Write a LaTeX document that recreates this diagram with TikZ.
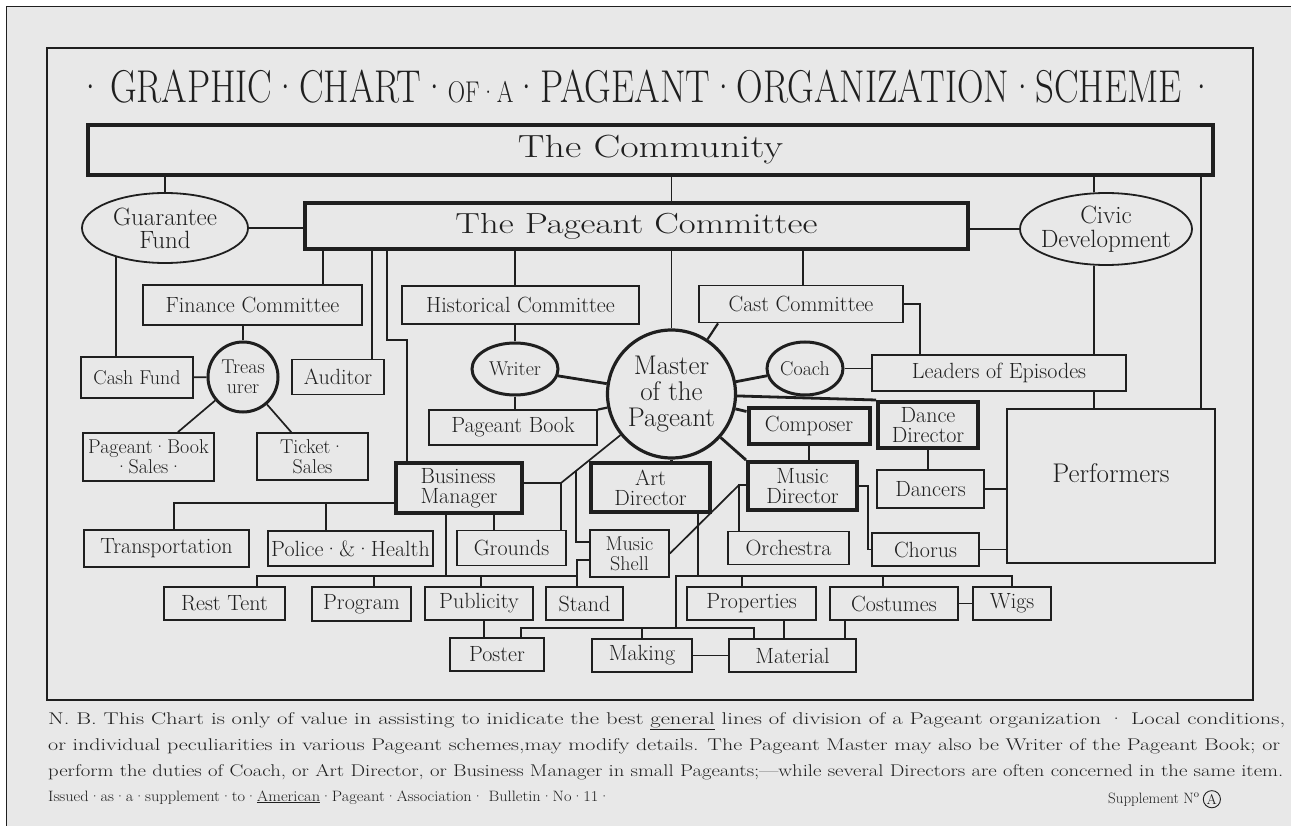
\documentclass[tikz,border=0pt]{standalone}
\usepackage{graphicx}
\usepackage{tikz}
\usetikzlibrary{shapes.geometric}
\definecolor{paper}{gray}{0.91}
\definecolor{ink}{gray}{0.12}
\tikzset{
  pgbox/.style={rectangle, draw=ink, line width=1.8pt, fill=paper, inner sep=0pt,
                text=ink, align=center, font=\fontsize{22}{20}\selectfont},
  pghead/.style={pgbox, line width=4pt},
  pgoval/.style={ellipse, draw=ink, line width=1.8pt, fill=paper, inner sep=0pt,
                 text=ink, align=center, font=\fontsize{22}{22}\selectfont},
  pgring/.style={circle, draw=ink, line width=3.2pt, fill=paper, inner sep=0pt,
                 text=ink, align=center},
  pglink/.style={draw=ink, line width=1.7pt},
  pgspoke/.style={pglink, line width=2.8pt},
  pgnote/.style={anchor=base west, inner sep=0pt, text=ink,
                 font=\fontsize{17}{17}\selectfont}
}
% stretch one line of lettering to a given width
\newcommand{\pgline}[2]{\resizebox{#1}{\height}{#2}}

\begin{document}
\begin{tikzpicture}[x=1pt, y=-1pt]
  \useasboundingbox (0,0) rectangle (1291,826);
  \fill[white] (0,0) rectangle (1291,826);
  \fill[paper] (6,7) rectangle (1291,826);
  \draw[ink, line width=1pt] (6,826) -- (6,7) -- (1291,7);
  \draw[ink, line width=2.4pt] (47,48) rectangle (1253,700);

  \node[anchor=base, inner sep=0pt, text=ink] (title) at (646,103)
    {\pgline{1137pt}{\fontsize{46}{46}\selectfont ·\,GRAPHIC·CHART·{\fontsize{30}{30}\selectfont OF·A}·PAGEANT·ORGANIZATION·SCHEME\,·}};

  % top of the scheme
  \node[pghead, minimum width=1125, minimum height=50,
        font=\fontsize{32}{32}\selectfont] (community) at (650.5,150) {\pgline{265pt}{The Community}};
  \node[pghead, minimum width=663, minimum height=46,
        font=\fontsize{29}{29}\selectfont] (pcomm) at (636.5,226) {\pgline{362pt}{The Pageant Committee}};
  \node[pgoval, minimum width=166, minimum height=70, inner xsep=-14pt,
        font=\fontsize{25}{23}\selectfont] (guar) at (165,228) {Guarantee\\Fund};
  \node[pgoval, minimum width=172, minimum height=72, inner xsep=-14pt,
        font=\fontsize{25}{24}\selectfont] (civic) at (1106,229) {Civic\\Development};

  % finance side
  \node[pgbox, minimum width=219, minimum height=40] (finance) at (252.5,305) {Finance Committee};
  \node[pgring, minimum size=70, line width=3pt,
        font=\fontsize{20}{20}\selectfont] (treas) at (243,377) {Treas\\urer};
  \node[pgbox, minimum width=112, minimum height=41,
        font=\fontsize{20}{20}\selectfont] (cash) at (137,377.5) {Cash Fund};
  \node[pgbox, minimum width=92, minimum height=35] (auditor) at (338,377) {Auditor};
  \node[pgbox, minimum width=131, minimum height=48,
        font=\fontsize{20}{20}\selectfont] (pbsales) at (148.5,457) {Pageant·Book\\·Sales·};
  \node[pgbox, minimum width=111, minimum height=47,
        font=\fontsize{20}{20}\selectfont] (ticket) at (312.5,456.5) {Ticket·\\Sales};

  % master and the committees
  \node[pgbox, minimum width=237, minimum height=38] (histc) at (520.5,305) {Historical Committee};
  \node[pgoval, minimum width=86, minimum height=52, line width=3pt,
        font=\fontsize{20}{20}\selectfont] (writer) at (515,369) {Writer};
  \node[pgbox, minimum width=168, minimum height=35] (pbook) at (513,427.5) {Pageant Book};
  \node[pgring, minimum size=128,
        font=\fontsize{27}{26}\selectfont] (master) at (671.5,394) {Master\\of the\\Pageant};
  \node[pgbox, minimum width=204, minimum height=37] (castc) at (801,304) {Cast Committee};
  \node[pgoval, minimum width=76, minimum height=53, line width=3pt,
        font=\fontsize{20}{20}\selectfont] (coach) at (805,368.5) {Coach};
  \node[pgbox, minimum width=254, minimum height=36] (leaders) at (999,373) {Leaders of Episodes};
  \node[pgbox, minimum width=208, minimum height=154,
        font=\fontsize{27}{27}\selectfont] (perf) at (1111,486) {\raisebox{26pt}{Performers}};

  % directors
  \node[pghead, minimum width=100, minimum height=46] (dancedir) at (928,425) {Dance\\Director};
  \node[pghead, minimum width=121, minimum height=36] (composer) at (809,426) {Composer};
  \node[pghead, minimum width=109, minimum height=48] (musicdir) at (802.5,486) {Music\\Director};
  \node[pghead, minimum width=119, minimum height=49] (artdir) at (650.5,487.5) {Art\\Director};
  \node[pghead, minimum width=126, minimum height=50, align=left] (busmgr) at (459,488) {Business\\Manager};

  % working units
  \node[pgbox, minimum width=165, minimum height=37] (transp) at (166.5,548.5) {Transportation};
  \node[pgbox, minimum width=165, minimum height=35] (police) at (350.5,548.5) {Police·\&·Health};
  \node[pgbox, minimum width=109, minimum height=35] (grounds) at (511.5,548) {Grounds};
  \node[pgbox, minimum width=79, minimum height=47,
        font=\fontsize{20}{20}\selectfont] (mshell) at (629.5,553.5) {Music\\Shell};
  \node[pgbox, minimum width=121, minimum height=33] (orch) at (788.5,548) {Orchestra};
  \node[pgbox, minimum width=107, minimum height=33] (chorus) at (925.5,549.5) {Chorus};
  \node[pgbox, minimum width=107, minimum height=38] (dancers) at (930.5,489) {Dancers};
  \node[pgbox, minimum width=121, minimum height=33] (resttent) at (224.5,603.5) {Rest Tent};
  \node[pgbox, minimum width=99, minimum height=34] (program) at (361.5,604) {Program};
  \node[pgbox, minimum width=108, minimum height=33] (publicity) at (479,603.5) {Publicity};
  \node[pgbox, minimum width=77, minimum height=33] (stand) at (584.5,603.5) {Stand};
  \node[pgbox, minimum width=129, minimum height=33] (props) at (751.5,603.5) {Properties};
  \node[pgbox, minimum width=128, minimum height=33] (costumes) at (894,603.5) {Costumes};
  \node[pgbox, minimum width=78, minimum height=33] (wigs) at (1012,603.5) {Wigs};
  \node[pgbox, minimum width=94, minimum height=33] (poster) at (497,654.5) {Poster};
  \node[pgbox, minimum width=100, minimum height=33] (making) at (642,655.5) {Making};
  \node[pgbox, minimum width=127, minimum height=33] (material) at (792.5,655.5) {Material};

  % links from the top
  \draw[pglink] (guar) -- (guar |- community.south);
  \draw[pglink] (community.south -| master) -- (pcomm.north -| master);
  \draw[pglink] (community.south -| 1094,0) -- (civic.north -| 1094,0);
  \draw[pglink] (community.south -| 1201,0) -- (perf.north -| 1201,0);
  \draw[pglink] (guar) -- (pcomm.west |- guar);
  \draw[pglink] (pcomm.east |- civic) -- (civic);
  \foreach \x/\n in {323/finance, 372/auditor, 803/castc}
    \draw[pglink] (pcomm.south -| \x,0) -- (\n.north -| \x,0);
  \draw[pglink] (pcomm.south -| 387,0) -- (387,340) -| (busmgr.north -| 407,0);
  \draw[pglink] (pcomm.south -| master) -- (master);
  \draw[pglink] (writer) -- (writer |- histc.south);
  \draw[pglink] (pcomm.south -| writer) -- (histc.north -| writer);

  % finance
  \draw[pglink] (treas) -- (treas |- finance.south);
  \draw[pglink] (cash) -- (treas);
  \draw[pglink] (guar.211) -- (guar.211 |- cash.north);
  \draw[pglink] (treas) -- (pbsales);
  \draw[pglink] (treas) -- (ticket);

  % spokes of the master
  \foreach \n in {writer, coach, composer}
    \draw[pgspoke] (master) -- (\n);
  \draw[pglink, line width=2.2pt] (master) -- (pbook);
  \draw[pglink, line width=2.2pt] (master) -- (castc.south -| 718,0);
  \draw[pgspoke] (master) -- (dancedir.north west);
  \draw[pgspoke] (master) -- (musicdir.north west);
  \draw[pgspoke] (master) -- (master |- artdir.north);
  \draw[pglink] (writer) -- (writer |- pbook.north);
  \coordinate (bmj) at (561,483);
  \draw[pglink] (master) -- coordinate[pos=0.75] (msj) (bmj) -- (busmgr.east |- bmj);
  \draw[pglink] (msj) |- (mshell.west |- 0,542);
  \draw[pglink] (bmj) -- (grounds.north -| bmj);

  % cast and performers
  \draw[pglink] (castc.east) -| (leaders.north -| 920,0);
  \draw[pglink] (coach) -- (leaders.west |- coach);
  \draw[pglink] (civic.south -| 1094,0) -- (leaders.north -| 1094,0);
  \draw[pglink] (leaders.south -| 1094,0) -- (perf.north -| 1094,0);
  \draw[pglink] (dancedir) -- (dancedir |- dancers.north);
  \draw[pglink] (dancers) -- (perf.west |- dancers);
  \draw[pglink] (chorus) -- (perf.west |- chorus);

  % music
  \draw[pglink] (composer) -- (composer |- musicdir.north);
  \draw[pglink] (musicdir.west |- 0,485) -- (739,485) -- (orch.north -| 739,0);
  \draw[pglink] (739,485) -- (mshell.east);
  \draw[pglink] (musicdir.east) -| (868,549.5) -- (chorus.west);

  % business
  \draw[pglink] (busmgr.west |- 0,503) -| (transp.north -| 174,0);
  \draw[pglink] (police.north -| 326,0) -- (326,503);
  \draw[pglink] (busmgr.south -| 494,0) -- (grounds.north -| 494,0);
  \draw[pglink] (busmgr.south -| 446,0) -- (446,576);
  \draw[pglink] (resttent.north -| 257,0) |- (577,576);
  \foreach \x/\n in {374/program, 481/publicity}
    \draw[pglink] (\n.north -| \x,0) -- (\x,576);
  \draw[pglink] (mshell.west |- 0,560) -| (stand.north -| 577,0);
  \draw[pglink] (publicity.south -| 484,0) -- (poster.north -| 484,0);

  % art
  \draw[pglink] (artdir.south -| 698,0) -- (698,576);
  \draw[pglink] (676,628) -- (676,576) -| (wigs.north);
  \foreach \x/\n in {742/props, 883/costumes}
    \draw[pglink] (\n.north -| \x,0) -- (\x,576);
  \draw[pglink] (poster.north -| 521,0) -- (521,628) -| (material.north -| 754,0);
  \draw[pglink] (making) -- (making |- 0,628);
  \draw[pglink] (making) -- (material);
  \draw[pglink] (props.south -| 784,0) -- (material.north -| 784,0);
  \draw[pglink] (costumes.south -| 845,0) -- (material.north -| 845,0);
  \draw[pglink] (costumes) -- (wigs);

  % note under the frame
  \node[pgnote] (nb1) at (48,724) {\pgline{1237pt}{N. B. This Chart is only of value in assisting to inidicate the best \underline{general} lines of division of a Pageant organization · Local conditions,}};
  \node[pgnote] (nb2) at (48,750) {\pgline{1232pt}{or individual peculiarities in various Pageant schemes,may modify details. The Pageant Master may also be Writer of the Pageant Book; or}};
  \node[pgnote] (nb3) at (48,776) {\pgline{1235pt}{perform the duties of Coach, or Art Director, or Business Manager in small Pageants;—while several Directors are often concerned in the same item.}};
  \node[pgnote, font=\fontsize{15}{15}\selectfont] (nb4) at (48,801) {\pgline{562pt}{Issued·as·a·supplement·to·\underline{American}·Pageant·Association· Bulletin·No·11·}};
  \node[pgnote, font=\fontsize{15}{15}\selectfont] (supp) at (1108,803) {Supplement N\textsuperscript{o}};
  \node[circle, draw=ink, line width=0.9pt, inner sep=1pt, text=ink, anchor=west,
        font=\fontsize{14}{14}\selectfont] (suppa) at ([xshift=3pt]supp.east) {A};
\end{tikzpicture}
\end{document}
